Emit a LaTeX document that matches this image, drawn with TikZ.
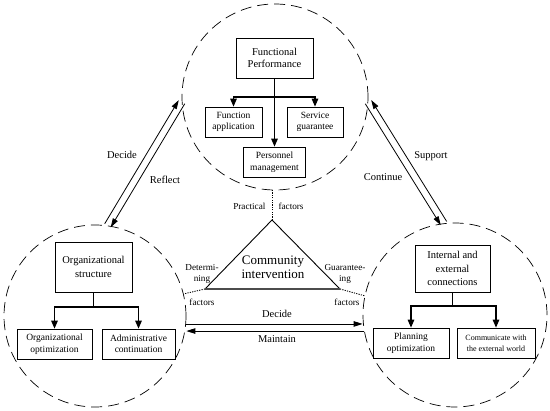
\documentclass[tikz,border=0pt]{standalone}
\usepackage{fontspec}
\setmainfont{Liberation Serif}
\usetikzlibrary{arrows.meta,calc}

\tikzset{
  zone/.style={draw,circle,dash pattern=on 11pt off 6pt,line width=0.7pt,inner sep=0pt},
  box/.style={draw,line width=0.7pt,align=center,inner sep=1pt,font=\fontsize{9.5}{11.5}\selectfont},
  branch/.style={line width=1.1pt,-{Triangle[length=8pt,width=6.5pt]}},
  flow/.style={line width=0.8pt,-{Triangle[length=9pt,width=5.5pt]}},
  lbl/.style={font=\fontsize{10.5}{12}\selectfont},
  small/.style={font=\fontsize{9.2}{11}\selectfont,align=center},
  link/.style={line width=0.9pt,dash pattern=on 1.2pt off 1.2pt},
}

\begin{document}
\begin{tikzpicture}[x=1pt,y=-1pt]
        \useasboundingbox (0,0) rectangle (550,411);
        \node[zone,minimum size=186pt] (T) at (275,97) {};
        \node[zone,minimum size=182pt] (L) at (95,316) {};
        \node[zone,minimum size=184pt] (R) at (455,315) {};

        \node[box,minimum width=77pt,minimum height=40pt,font=\fontsize{10.5}{12.5}\selectfont] (perf) at (274.5,58) {Functional\\Performance};
        \node[box,minimum width=57pt,minimum height=30pt] (app) at (233.5,122) {Function\\application};
        \node[box,minimum width=56pt,minimum height=30pt] (serv) at (315,122) {Service\\guarantee};
        \node[box,minimum width=62pt,minimum height=30pt] (pers) at (274.5,162) {Personnel\\management};
        \coordinate (tsplit) at (274.5,97);
        \draw[branch] (perf.south) -- (pers.north);
        \draw[branch] (tsplit) -| (app.north);
        \draw[branch] (tsplit) -| (serv.north);

        \node[box,minimum width=77pt,minimum height=50pt,font=\fontsize{10.5}{14}\selectfont] (org) at (93.5,267) {Organizational\\structure};
        \node[box,minimum width=75pt,minimum height=30pt] (opt) at (54.5,344) {Organizational\\optimization};
        \node[box,minimum width=73pt,minimum height=30pt] (adm) at (138.5,344) {Administrative\\continuation};
        \coordinate (lsplit) at (93.5,307);
        \draw[line width=1.1pt] (org.south) -- (lsplit);
        \draw[branch] (lsplit) -| (opt.north);
        \draw[branch] (lsplit) -| (adm.north);

        \node[box,minimum width=75pt,minimum height=47pt,font=\fontsize{10.5}{13.3}\selectfont] (conn) at (452.5,268.5) {Internal and\\external\\connections};
        \node[box,minimum width=76pt,minimum height=30pt] (plan) at (411,343) {Planning\\optimization};
        \node[box,minimum width=78pt,minimum height=30pt,font=\fontsize{8}{11}\selectfont] (comm) at (496,343) {Communicate with\\the external world};
        \coordinate (rsplit) at (452.5,306);
        \draw[line width=1.1pt] (conn.south) -- (rsplit);
        \draw[branch] (rsplit) -| (plan.north);
        \draw[branch] (rsplit) -| (comm.north);

        \coordinate (apex) at (272,220);
        \coordinate (bl) at (205,289);
        \coordinate (br) at (340,289);
        \draw[line width=0.9pt] (bl) -- (apex) -- (br);
        \draw[line width=1.8pt,black!70] (bl) -- (br);
        \node[align=center,font=\fontsize{13}{14}\selectfont] (ci) at (273,267) {Community\\intervention};
        \draw[link] (apex) -- (apex |- T.south);
        \draw[link] (bl) -- (L.14);
        \draw[link] (br) -- (R.168);
        \node[small,anchor=east] (prac) at (269,206) {Practical};
        \node[small,anchor=west] (pracf) at (275,206) {factors};
        \node[small] (det) at (202,274) {Determi-\\ning};
        \node[small] (detf) at (202,302) {factors};
        \node[small] (gua) at (345,274) {Guarantee-\\ing};
        \node[small] (guaf) at (347,302) {factors};

        \draw[flow] ($(L.82)!3.5pt!90:(T.183)$) -- ($(T.183)!3.5pt!-90:(L.82)$);
        \draw[flow] ($(T.183)!3.5pt!90:(L.82)$) -- ($(L.82)!3.5pt!-90:(T.183)$);
        \draw[flow] ($(T.357)!3.5pt!-90:(R.97)$) -- ($(R.97)!3.5pt!90:(T.357)$);
        \draw[flow] ($(R.97)!3.5pt!-90:(T.357)$) -- ($(T.357)!3.5pt!90:(R.97)$);
        \draw[flow] (L.355) -- (L.355 -| R.west);
        \draw[flow] (R.190) -- (R.190 -| L.east);

        \node[lbl] (l1) at (122,155) {Decide};
        \node[lbl] (l2) at (165,180) {Reflect};
        \node[lbl] (l3) at (431,156) {Support};
        \node[lbl] (l4) at (383,177) {Continue};
        \node[lbl] (l5) at (277,314) {Decide};
        \node[lbl] (l6) at (277,339) {Maintain};
    \end{tikzpicture}
\end{document}
